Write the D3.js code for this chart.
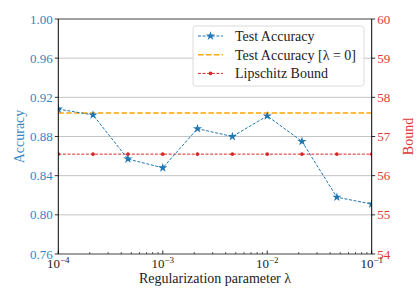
<!DOCTYPE html>
<html>
<head>
<meta charset="utf-8">
<script src="https://cdn.jsdelivr.net/npm/d3@7"></script>
<style>
  body { margin: 0; background: #fff; }
</style>
</head>
<body>
<div id="chart"></div>
<script>
const width = 420;
const height = 300;
const margin = { top: 19, right: 48.3, bottom: 46, left: 58.3 };

// data
const lambdas = [1e-4, 2.15e-4, 4.64e-4, 1e-3, 2.15e-3, 4.64e-3, 1e-2, 2.15e-2, 4.64e-2, 1e-1];
const testAcc = [0.908, 0.902, 0.857, 0.848, 0.888, 0.880, 0.901, 0.875, 0.818, 0.811];
const baselineAcc = 0.904;
const lipschitz = [56.55, 56.55, 56.55, 56.55, 56.55, 56.55, 56.55, 56.55, 56.55, 56.55];
const accTicks = [0.76, 0.80, 0.84, 0.88, 0.92, 0.96, 1.00];
const boundTicks = [54, 55, 56, 57, 58, 59, 60];
const xMajor = [1e-4, 1e-3, 1e-2, 1e-1];
const legendLabels = ["Test Accuracy", "Test Accuracy [\u03bb = 0]", "Lipschitz Bound"];

const blue = "#1f77b4";
const blueText = "#3585c2";
const orange = "#ffa500";
const red = "#d62728";
const redText = "#dc3a3a";

const x0 = margin.left, x1 = width - margin.right;
const y0 = height - margin.bottom, y1 = margin.top;

const x = d3.scaleLog().domain([1e-4, 1e-1]).range([x0, x1]);
const yAcc = d3.scaleLinear().domain([0.76, 1.00]).range([y0, y1]);
const yBound = d3.scaleLinear().domain([54, 60]).range([y0, y1]);

const svg = d3.select("#chart").append("svg")
  .attr("width", width)
  .attr("height", height)
  .attr("font-family", "'Liberation Serif', 'DejaVu Serif', serif");

svg.append("defs").append("clipPath").attr("id", "clip")
  .append("rect")
  .attr("x", x0).attr("y", y1)
  .attr("width", x1 - x0).attr("height", y0 - y1);

// grid
svg.append("g").selectAll("line")
  .data(accTicks)
  .enter().append("line")
  .attr("x1", x0).attr("x2", x1)
  .attr("y1", d => yAcc(d)).attr("y2", d => yAcc(d))
  .attr("stroke", (d, i) => (i === 0 || i === accTicks.length - 1) ? "#808080" : "#bdbdbd")
  .attr("stroke-width", (d, i) => (i === 0 || i === accTicks.length - 1) ? 1.4 : 0.9);

const plot = svg.append("g").attr("clip-path", "url(#clip)");

// baseline
plot.append("line")
  .attr("x1", x0).attr("x2", x1)
  .attr("y1", yAcc(baselineAcc)).attr("y2", yAcc(baselineAcc))
  .attr("stroke", orange).attr("stroke-width", 1.5)
  .attr("stroke-dasharray", "5.5,2.4");

// lipschitz bound
plot.append("path")
  .datum(lambdas.map((l, i) => [l, lipschitz[i]]))
  .attr("fill", "none")
  .attr("stroke", red).attr("stroke-width", 1)
  .attr("stroke-dasharray", "3,1.6")
  .attr("d", d3.line().x(d => x(d[0])).y(d => yBound(d[1])));

plot.append("g").selectAll("circle")
  .data(lambdas.map((l, i) => [l, lipschitz[i]]))
  .enter().append("circle")
  .attr("cx", d => x(d[0])).attr("cy", d => yBound(d[1]))
  .attr("r", 1.8).attr("fill", red);

// test accuracy
plot.append("path")
  .datum(lambdas.map((l, i) => [l, testAcc[i]]))
  .attr("fill", "none")
  .attr("stroke", blue).attr("stroke-width", 1)
  .attr("stroke-dasharray", "3,1.6")
  .attr("d", d3.line().x(d => x(d[0])).y(d => yAcc(d[1])));

const star = d3.symbol().type(d3.symbolStar).size(26);
plot.append("g").selectAll("path")
  .data(lambdas.map((l, i) => [l, testAcc[i]]))
  .enter().append("path")
  .attr("transform", d => `translate(${x(d[0])},${yAcc(d[1])})`)
  .attr("d", star)
  .attr("fill", blue);

// spines
svg.append("line").attr("x1", x0).attr("x2", x0).attr("y1", y1).attr("y2", y0)
  .attr("stroke", "#000").attr("stroke-width", 1);
svg.append("line").attr("x1", x1).attr("x2", x1).attr("y1", y1).attr("y2", y0)
  .attr("stroke", "#000").attr("stroke-width", 1);

// left axis
const left = svg.append("g");
left.selectAll("line").data(accTicks).enter().append("line")
  .attr("x1", x0 - 3.5).attr("x2", x0)
  .attr("y1", d => yAcc(d)).attr("y2", d => yAcc(d))
  .attr("stroke", "#000").attr("stroke-width", 0.8);
left.selectAll("text").data(accTicks).enter().append("text")
  .attr("x", x0 - 5.5).attr("y", d => yAcc(d)).attr("dy", "0.35em")
  .attr("text-anchor", "end")
  .attr("font-size", 13).attr("fill", blueText)
  .text(d => d3.format(".2f")(d));

// right axis
const right = svg.append("g");
right.selectAll("line").data(boundTicks).enter().append("line")
  .attr("x1", x1).attr("x2", x1 + 3.5)
  .attr("y1", d => yBound(d)).attr("y2", d => yBound(d))
  .attr("stroke", "#000").attr("stroke-width", 0.8);
right.selectAll("text").data(boundTicks).enter().append("text")
  .attr("x", x1 + 5.5).attr("y", d => yBound(d)).attr("dy", "0.35em")
  .attr("font-size", 13).attr("fill", redText)
  .text(d => d);

// bottom axis (ticks inward)
const minor = [];
for (let e = -4; e < -1; e++) {
  for (let m = 2; m <= 9; m++) minor.push(m * Math.pow(10, e));
}
const bottom = svg.append("g");
bottom.selectAll("line.minor").data(minor).enter().append("line")
  .attr("x1", d => x(d)).attr("x2", d => x(d))
  .attr("y1", y0).attr("y2", y0 - 2)
  .attr("stroke", "#000").attr("stroke-width", 0.6);
bottom.selectAll("line.major").data(xMajor).enter().append("line")
  .attr("x1", d => x(d)).attr("x2", d => x(d))
  .attr("y1", y0).attr("y2", y0 - 3.5)
  .attr("stroke", "#000").attr("stroke-width", 0.8);
const xl = bottom.selectAll("text").data(xMajor).enter().append("text")
  .attr("x", d => x(d)).attr("y", y0 + 14)
  .attr("text-anchor", "middle")
  .attr("font-size", 13).attr("fill", "#222");
xl.append("tspan").text("10");
xl.append("tspan").attr("dy", -5).attr("font-size", 9)
  .text(d => "\u2212" + Math.round(-Math.log10(d)));

// axis labels
svg.append("text")
  .attr("x", 215).attr("y", 283)
  .attr("text-anchor", "middle").attr("font-size", 14).attr("fill", "#222")
  .text("Regularization parameter \u03bb");

svg.append("text")
  .attr("transform", `translate(24,${(y0 + y1) / 2}) rotate(-90)`)
  .attr("text-anchor", "middle").attr("font-size", 14).attr("fill", blueText)
  .text("Accuracy");

svg.append("text")
  .attr("transform", `translate(413,${(y0 + y1) / 2}) rotate(-90)`)
  .attr("text-anchor", "middle").attr("font-size", 14).attr("fill", redText)
  .text("Bound");

// legend
const lg = svg.append("g");
lg.append("rect")
  .attr("x", 193).attr("y", 26).attr("width", 171).attr("height", 60)
  .attr("rx", 2.5)
  .attr("fill", "#fff").attr("fill-opacity", 0.85)
  .attr("stroke", "#d6d6d6").attr("stroke-width", 0.9);

const legendColors = [blue, orange, red];
const item = lg.selectAll("g.item").data(legendLabels).enter().append("g")
  .attr("transform", (d, i) => `translate(198,${36 + i * 18.7})`);
item.append("line")
  .attr("x1", 0).attr("x2", 25).attr("y1", 0).attr("y2", 0)
  .attr("stroke", (d, i) => legendColors[i])
  .attr("stroke-width", (d, i) => i === 1 ? 1.5 : 1)
  .attr("stroke-dasharray", (d, i) => i === 1 ? "5.5,2.4" : "3,1.6");
item.filter((d, i) => i === 0).append("path")
  .attr("transform", "translate(12.5,0)").attr("d", star).attr("fill", blue);
item.filter((d, i) => i === 2).append("circle")
  .attr("cx", 12.5).attr("cy", 0).attr("r", 1.8).attr("fill", red);
item.append("text")
  .attr("x", 37).attr("dy", "0.35em")
  .attr("font-size", 14).attr("fill", "#222")
  .text(d => d);
</script>
</body>
</html>
